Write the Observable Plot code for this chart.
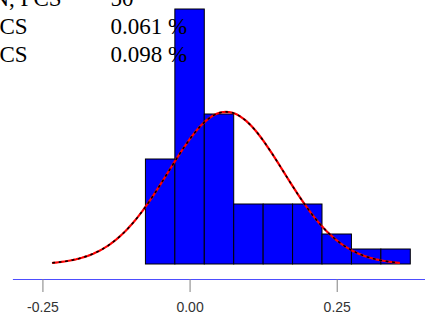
<!DOCTYPE html>
<html>
<head>
<meta charset="utf-8">
<script src="https://cdn.jsdelivr.net/npm/d3@7"></script>
<script src="https://cdn.jsdelivr.net/npm/@observablehq/plot@0.6"></script>
<style>
  html, body { margin: 0; padding: 0; background: #fff; overflow: hidden; }
</style>
</head>
<body>
<div id="chart"></div>
<script>
// Histogram bins (edges) and counts
const binEdges = [-0.075, -0.025, 0.025, 0.075, 0.125, 0.175, 0.225, 0.275, 0.325, 0.375];
const counts = [7, 17, 10, 4, 4, 4, 2, 1, 1];

// Summary statistics shown in the chart
const statLabels = ["N, PCS", "CS", "CS"];
const statValues = ["50", "0.061 %", "0.098 %"];
const sampleN = 50;
const sampleMean = 0.061;
const sampleSd = 0.098;

// Axis ticks
const tickValues = [-0.25, 0, 0.25];
const tickLabels = ["-0.25", "0.00", "0.25"];

const bars = counts.map((c, i) => ({x1: binEdges[i], x2: binEdges[i + 1], count: c}));
const binWidth = binEdges[1] - binEdges[0];

// Fitted normal curve (mean ± 3 sd), scaled to counts
const curve = d3.range(0, 121).map(i => {
  const x = sampleMean - 3 * sampleSd + (6 * sampleSd) * i / 120;
  const z = (x - sampleMean) / sampleSd;
  return {x, y: sampleN * binWidth / (sampleSd * Math.sqrt(2 * Math.PI)) * Math.exp(-0.5 * z * z)};
});

const serif = "'Liberation Serif', 'Times New Roman', serif";
const labelRows = statLabels.map((l, i) => ({l, v: statValues[i], i}));
const rowDy = [-4, 24, 52];
const labelDx = [-21, -14, -14];

const textMarks = labelRows.flatMap(r => [
  Plot.text([r], {text: "l", frameAnchor: "top-left", textAnchor: "start", lineAnchor: "bottom",
    dx: labelDx[r.i], dy: rowDy[r.i], fontFamily: serif, fontSize: 23, fill: "#000"}),
  Plot.text([r], {text: "v", frameAnchor: "top-left", textAnchor: "start", lineAnchor: "bottom",
    dx: 97, dy: rowDy[r.i], fontFamily: serif, fontSize: 23, fill: "#000"})
]);

const chart = Plot.plot({
  width: 425,
  height: 324,
  marginLeft: 13,
  marginRight: 0,
  marginTop: 9,
  marginBottom: 45,
  x: {domain: [-0.3, 0.4]},
  y: {domain: [-1, 17], axis: null},
  style: {fontFamily: "'Liberation Sans Narrow', 'Arial Narrow', sans-serif", background: "#fff"},
  marks: [
    Plot.rectY(bars, {x1: "x1", x2: "x2", y1: 0, y2: "count", fill: "#0000ff", stroke: "#000", strokeWidth: 1}),
    Plot.line(curve, {x: "x", y: "y", stroke: "#ff0000", strokeWidth: 2.2}),
    Plot.line(curve, {x: "x", y: "y", stroke: "#000", strokeWidth: 1.6, strokeDasharray: "1.5,5"}),
    Plot.frame({anchor: "bottom", stroke: "#4d4dff", strokeWidth: 1.2}),
    Plot.axisX({ticks: tickValues, tickFormat: (d, i) => tickLabels[i], tickSize: 13, tickPadding: 10,
      stroke: "#808080", fill: "#333", fontSize: 14, label: null}),
    ...textMarks
  ]
});
document.getElementById("chart").appendChild(chart);
</script>
</body>
</html>
